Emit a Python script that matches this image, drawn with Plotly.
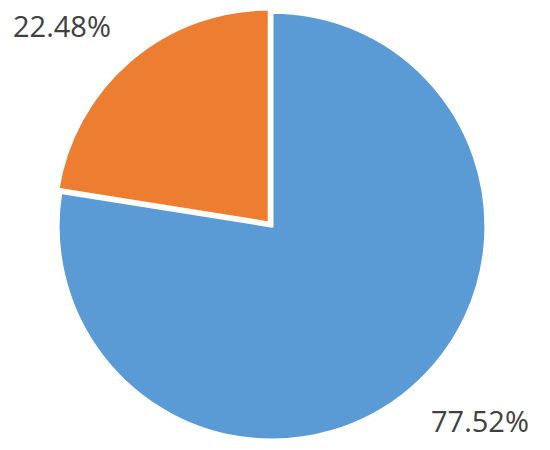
import plotly.graph_objects as go

labels = ["A", "B"]
values = [77.52, 22.48]
colors = ["#5B9BD5", "#ED7D31"]
pulls = [0, 0.02]

# label spots (paper coords) for each slice
label_x = [0.859, 0.098]
label_y = [0.0844, 0.962]

fig = go.Figure(
    go.Pie(
        labels=labels,
        values=values,
        sort=False,
        direction="clockwise",
        rotation=0,
        pull=pulls,
        marker=dict(colors=colors, line=dict(color="white", width=3)),
        textinfo="none",
        hoverinfo="label+percent",
        domain=dict(x=[0.0831, 0.8769], y=[0.0304, 1.0]),
        showlegend=False,
    )
)

for v, x, y in zip(values, label_x, label_y):
    fig.add_annotation(
        text=f"{v:.2f}%",
        x=x, y=y, xref="paper", yref="paper",
        xanchor="center", yanchor="middle",
        showarrow=False,
        font=dict(family="Open Sans", size=29, color="#404040"),
    )

fig.update_layout(
    width=550,
    height=450,
    margin=dict(l=0, r=0, t=0, b=0),
    paper_bgcolor="white",
    plot_bgcolor="white",
)

fig.write_html("out.html")
